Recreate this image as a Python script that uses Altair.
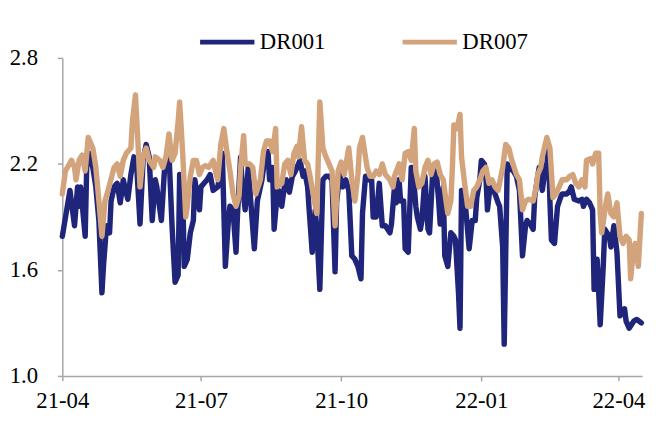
import altair as alt
import pandas as pd

# ---------------- data ----------------
dr001_dates = [
    "2021-04-01", "2021-04-06", "2021-04-09", "2021-04-11", "2021-04-12", "2021-04-13", "2021-04-16", "2021-04-17",
    "2021-04-19", "2021-04-21", "2021-04-23", "2021-04-25", "2021-04-27", "2021-04-28", "2021-04-30",
    "2021-05-02", "2021-05-03", "2021-05-05", "2021-05-07", "2021-05-09", "2021-05-11", "2021-05-12", "2021-05-14",
    "2021-05-16", "2021-05-18", "2021-05-20", "2021-05-22", "2021-05-24", "2021-05-26", "2021-05-28", "2021-05-30",
    "2021-06-01", "2021-06-02", "2021-06-05", "2021-06-07", "2021-06-08", "2021-06-10", "2021-06-12", "2021-06-14",
    "2021-06-16", "2021-06-17", "2021-06-19", "2021-06-20", "2021-06-22", "2021-06-24", "2021-06-26", "2021-06-27",
    "2021-06-29", "2021-06-30",
    "2021-07-01", "2021-07-03", "2021-07-05", "2021-07-07", "2021-07-09", "2021-07-12", "2021-07-14", "2021-07-15",
    "2021-07-17", "2021-07-19", "2021-07-20", "2021-07-22", "2021-07-24", "2021-07-25", "2021-07-27", "2021-07-28",
    "2021-07-30",
    "2021-08-01", "2021-08-03", "2021-08-05", "2021-08-07", "2021-08-10", "2021-08-12", "2021-08-14", "2021-08-15",
    "2021-08-17", "2021-08-18", "2021-08-20", "2021-08-21", "2021-08-23", "2021-08-25", "2021-08-26", "2021-08-28",
    "2021-08-30",
    "2021-09-01", "2021-09-02", "2021-09-04", "2021-09-06", "2021-09-07", "2021-09-09", "2021-09-10", "2021-09-12",
    "2021-09-14", "2021-09-15", "2021-09-17", "2021-09-19", "2021-09-21", "2021-09-23", "2021-09-25", "2021-09-27",
    "2021-09-28", "2021-09-30",
    "2021-10-02", "2021-10-04", "2021-10-06", "2021-10-08", "2021-10-10", "2021-10-12", "2021-10-14", "2021-10-15",
    "2021-10-17", "2021-10-19", "2021-10-21", "2021-10-22", "2021-10-24", "2021-10-26", "2021-10-28", "2021-10-30",
    "2021-11-02", "2021-11-03", "2021-11-05", "2021-11-06", "2021-11-08", "2021-11-09", "2021-11-11", "2021-11-12",
    "2021-11-14", "2021-11-16", "2021-11-17", "2021-11-19", "2021-11-20", "2021-11-22", "2021-11-23", "2021-11-25",
    "2021-11-27", "2021-11-28", "2021-11-30",
    "2021-12-02", "2021-12-04", "2021-12-05", "2021-12-07", "2021-12-08", "2021-12-10", "2021-12-12", "2021-12-14",
    "2021-12-15", "2021-12-17", "2021-12-18", "2021-12-19", "2021-12-21", "2021-12-22", "2021-12-24", "2021-12-26",
    "2021-12-28", "2021-12-29", "2021-12-31",
    "2022-01-01", "2022-01-03", "2022-01-04", "2022-01-05", "2022-01-07", "2022-01-09", "2022-01-10", "2022-01-12",
    "2022-01-13", "2022-01-15", "2022-01-16", "2022-01-18", "2022-01-19", "2022-01-22", "2022-01-24", "2022-01-26",
    "2022-01-28", "2022-01-30", "2022-01-31",
    "2022-02-02", "2022-02-04", "2022-02-05", "2022-02-07", "2022-02-08", "2022-02-10", "2022-02-12", "2022-02-13",
    "2022-02-14", "2022-02-15", "2022-02-16", "2022-02-18", "2022-02-20", "2022-02-22", "2022-02-23", "2022-02-26",
    "2022-02-28",
    "2022-03-01", "2022-03-03", "2022-03-06", "2022-03-08", "2022-03-09", "2022-03-11", "2022-03-13", "2022-03-15",
    "2022-03-16", "2022-03-18", "2022-03-20", "2022-03-22", "2022-03-23", "2022-03-26", "2022-03-27", "2022-03-29",
    "2022-03-31",
    "2022-04-02", "2022-04-05", "2022-04-06", "2022-04-08", "2022-04-11", "2022-04-13", "2022-04-16",
]
dr001_values = [
    1.79, 2.05, 1.85, 2.07, 1.96, 2.07, 1.79, 2.18, 2.26, 2.18, 2.07, 1.88, 1.47, 1.62, 1.85,
    1.81, 1.99, 2.07, 2.09, 1.98, 2.11, 2.07, 2.00, 2.14, 2.24, 2.16, 1.86, 2.22, 2.31, 2.24, 1.88,
    2.11, 2.07, 1.88, 2.16, 2.20, 2.26, 1.85, 1.53, 1.57, 2.14, 2.05, 1.62, 1.66, 1.81, 1.88, 2.11, 1.99, 1.94,
    2.07, 2.09, 2.11, 2.14, 2.05, 2.07, 2.16, 2.26, 1.62, 1.88, 1.96, 1.94, 1.70, 1.92, 2.24, 2.09, 1.94,
    2.18, 1.95, 1.72, 1.99, 2.11, 2.24, 2.27, 2.11, 2.18, 1.83, 2.03, 2.05, 1.96, 2.09, 2.11, 2.04, 2.13,
    2.16, 2.18, 2.22, 2.13, 2.16, 2.07, 1.94, 1.70, 1.94, 1.83, 1.49, 2.11, 2.13, 2.13, 2.11, 1.59, 1.98, 2.14,
    2.07, 2.11, 2.05, 1.68, 1.66, 1.62, 1.55, 1.92, 2.13, 2.11, 2.11, 1.90, 1.90, 2.09, 1.85, 1.85,
    1.81, 1.86, 2.07, 1.98, 2.11, 1.99, 1.99, 1.72, 1.70, 2.18, 2.18, 1.96, 1.90, 1.83, 1.88, 2.13, 1.83, 1.81, 2.14,
    2.20, 1.99, 1.86, 2.07, 1.68, 1.62, 1.81, 1.79, 1.77, 1.47, 1.27, 2.05, 2.03, 1.92, 1.72, 1.88, 1.88, 2.01, 2.11,
    2.22, 2.20, 2.13, 1.94, 2.09, 2.05, 2.03, 1.98, 1.96, 1.73, 1.18, 2.20, 2.18, 2.16, 2.13, 2.05, 1.68, 1.85, 1.88,
    1.86, 1.83, 2.01, 2.13, 2.18, 2.05, 2.18, 2.20, 2.29, 1.99, 1.77, 1.75, 1.96, 2.01, 2.03, 2.03, 2.05,
    2.07, 2.00, 1.99, 2.00, 1.96, 2.00, 1.98, 1.94, 1.49, 1.66, 1.29, 1.62, 1.83, 1.79, 1.73, 1.85, 1.70,
    1.34, 1.38, 1.31, 1.27, 1.31, 1.32, 1.30,
]

dr007_dates = [
    "2021-04-01", "2021-04-03", "2021-04-07", "2021-04-09", "2021-04-10", "2021-04-12", "2021-04-14", "2021-04-16",
    "2021-04-18", "2021-04-21", "2021-04-23", "2021-04-25", "2021-04-27", "2021-04-29",
    "2021-05-01", "2021-05-05", "2021-05-07", "2021-05-09", "2021-05-11", "2021-05-13", "2021-05-16", "2021-05-17",
    "2021-05-19", "2021-05-21", "2021-05-22", "2021-05-24", "2021-05-26", "2021-05-28", "2021-05-31",
    "2021-06-01", "2021-06-04", "2021-06-06", "2021-06-08", "2021-06-10", "2021-06-12", "2021-06-14", "2021-06-16",
    "2021-06-17", "2021-06-19", "2021-06-21", "2021-06-22", "2021-06-24", "2021-06-26", "2021-06-28", "2021-06-30",
    "2021-07-02", "2021-07-04", "2021-07-06", "2021-07-09", "2021-07-11", "2021-07-12", "2021-07-14", "2021-07-16",
    "2021-07-18", "2021-07-20", "2021-07-22", "2021-07-24", "2021-07-26", "2021-07-27", "2021-07-29", "2021-07-30",
    "2021-08-02", "2021-08-04", "2021-08-06", "2021-08-09", "2021-08-11", "2021-08-13", "2021-08-15", "2021-08-17",
    "2021-08-19", "2021-08-20", "2021-08-23", "2021-08-25", "2021-08-27", "2021-08-29", "2021-08-31",
    "2021-09-02", "2021-09-03", "2021-09-05", "2021-09-07", "2021-09-09", "2021-09-11", "2021-09-13", "2021-09-15",
    "2021-09-17", "2021-09-19", "2021-09-21", "2021-09-23", "2021-09-25", "2021-09-27", "2021-09-29",
    "2021-10-01", "2021-10-03", "2021-10-06", "2021-10-08", "2021-10-10", "2021-10-12", "2021-10-13", "2021-10-15",
    "2021-10-18", "2021-10-20", "2021-10-22", "2021-10-24", "2021-10-26", "2021-10-28", "2021-10-30",
    "2021-11-02", "2021-11-04", "2021-11-05", "2021-11-08", "2021-11-10", "2021-11-12", "2021-11-14", "2021-11-16",
    "2021-11-18", "2021-11-19", "2021-11-21", "2021-11-23", "2021-11-25", "2021-11-27", "2021-11-29",
    "2021-12-01", "2021-12-03", "2021-12-05", "2021-12-07", "2021-12-09", "2021-12-10", "2021-12-12", "2021-12-13",
    "2021-12-14", "2021-12-16", "2021-12-18", "2021-12-19", "2021-12-21", "2021-12-23", "2021-12-25", "2021-12-27",
    "2021-12-29", "2021-12-31",
    "2022-01-02", "2022-01-04", "2022-01-06", "2022-01-08", "2022-01-10", "2022-01-12", "2022-01-15", "2022-01-17",
    "2022-01-19", "2022-01-21", "2022-01-24", "2022-01-26", "2022-01-28", "2022-01-30",
    "2022-02-01", "2022-02-04", "2022-02-06", "2022-02-07", "2022-02-09", "2022-02-10", "2022-02-13", "2022-02-15",
    "2022-02-17", "2022-02-19", "2022-02-21", "2022-02-23", "2022-02-26", "2022-02-28",
    "2022-03-02", "2022-03-04", "2022-03-06", "2022-03-08", "2022-03-10", "2022-03-11", "2022-03-14", "2022-03-15",
    "2022-03-17", "2022-03-19", "2022-03-20", "2022-03-21", "2022-03-24", "2022-03-25", "2022-03-27", "2022-03-29",
    "2022-03-31",
    "2022-04-02", "2022-04-04", "2022-04-06", "2022-04-08", "2022-04-09", "2022-04-11", "2022-04-12", "2022-04-14",
    "2022-04-16",
]
dr007_values = [
    2.03, 2.16, 2.22, 2.18, 2.11, 2.22, 2.25, 2.16, 2.35, 2.29, 2.18, 1.99, 1.79, 1.99,
    2.05, 2.18, 2.20, 2.13, 2.22, 2.26, 2.29, 2.44, 2.59, 2.26, 2.07, 2.24, 2.29, 2.22, 2.18,
    2.24, 2.22, 2.18, 2.24, 2.37, 2.22, 2.26, 2.44, 2.55, 2.26, 1.90, 1.96, 2.13, 2.22, 2.22, 2.14,
    2.18, 2.19, 2.18, 2.22, 2.14, 2.11, 2.31, 2.40, 2.27, 2.16, 2.03, 1.96, 2.02, 2.18, 2.36, 2.20,
    2.20, 2.18, 2.03, 2.11, 2.27, 2.33, 2.33, 2.27, 2.40, 2.07, 2.09, 2.20, 2.22, 2.14, 2.26,
    2.30, 2.24, 2.41, 2.22, 2.20, 2.11, 2.01, 1.92, 2.55, 2.29, 2.24, 2.20, 2.16, 1.85, 2.16,
    2.21, 2.14, 2.29, 2.11, 1.99, 2.14, 2.29, 2.35, 2.18, 2.13, 2.13, 2.16, 2.14, 2.20, 2.14,
    2.11, 2.07, 2.13, 2.20, 2.11, 2.26, 2.27, 2.22, 2.40, 2.16, 2.07, 2.09, 2.18, 2.22, 2.14,
    2.20, 2.21, 2.14, 2.11, 1.98, 1.92, 1.99, 2.18, 2.42, 2.40, 2.48, 2.24, 2.09, 1.96, 1.96, 2.05, 2.07, 2.11,
    2.16, 2.18, 2.09, 2.11, 2.07, 2.05, 2.18, 2.31, 2.29, 2.22, 2.14, 2.11, 1.94, 1.99,
    2.00, 1.99, 2.07, 2.14, 2.18, 2.24, 2.35, 2.29, 2.01, 2.03, 2.07, 2.11, 2.11, 2.13,
    2.14, 2.09, 2.07, 2.11, 2.07, 2.22, 2.23, 2.20, 2.26, 2.26, 1.92, 1.81, 1.99, 2.03, 1.92, 1.90, 1.98,
    1.79, 1.75, 1.79, 1.77, 1.55, 1.73, 1.75, 1.62, 1.92,
]

series_names = ["DR001", "DR007"]
series_colors = ["#1F257A", "#D3A47C"]
y_ticks = [1.0, 1.6, 2.2, 2.8]
x_tick_dates = [(2021, 4), (2021, 7), (2021, 10), (2022, 1), (2022, 4)]

# ---------------- table ----------------
df = pd.concat([
    pd.DataFrame({"date": dr001_dates, "value": dr001_values, "series": series_names[0]}),
    pd.DataFrame({"date": dr007_dates, "value": dr007_values, "series": series_names[1]}),
], ignore_index=True)

FONT = "'Liberation Serif', 'Times New Roman', Times, serif"
AXIS_GRAY = "#A6A6A6"

x_ticks = [alt.DateTime(year=y, month=m, date=1, utc=True) for y, m in x_tick_dates]

chart = alt.Chart(df).mark_line(
    strokeWidth=5.5, strokeJoin="round", strokeCap="round"
).encode(
    x=alt.X(
        "date:T",
        scale=alt.Scale(
            type="utc",
            domain=[alt.DateTime(year=2021, month=4, date=1, utc=True),
                    alt.DateTime(year=2022, month=4, date=16, hours=12, utc=True)],
            nice=False,
        ),
        axis=alt.Axis(
            values=x_ticks, format="%y-%m", title=None, grid=False,
            labelFlush=False, labelOverlap=False, labelPadding=9,
        ),
    ),
    y=alt.Y(
        "value:Q",
        scale=alt.Scale(domain=[1.0, 2.8], nice=False, zero=False),
        axis=alt.Axis(values=y_ticks, format=".1f", title=None, grid=False, labelPadding=20),
    ),
    color=alt.Color(
        "series:N",
        scale=alt.Scale(domain=series_names, range=series_colors),
        legend=alt.Legend(
            title=None, orient="none", direction="horizontal",
            legendX=137, legendY=-46,
            symbolType="stroke", symbolSize=3025, symbolStrokeWidth=5,
            labelFont=FONT, labelFontSize=23, labelColor="black",
            labelOffset=3, columnPadding=67, padding=0,
        ),
    ),
    order=alt.Order("series:N"),
).properties(
    width=587,
    height=322,
    autosize=alt.AutoSizeParams(type="none"),
    padding={"left": 55, "top": 48, "right": 8, "bottom": 35},
).configure_view(
    stroke=None
).configure_axis(
    labelFont=FONT, labelFontSize=23, labelColor="black",
    domainColor=AXIS_GRAY, domainWidth=1.5,
    tickColor=AXIS_GRAY, tickWidth=1.5, tickSize=5,
)

chart.save("out.html", embed_options={"renderer": "svg", "actions": False})
